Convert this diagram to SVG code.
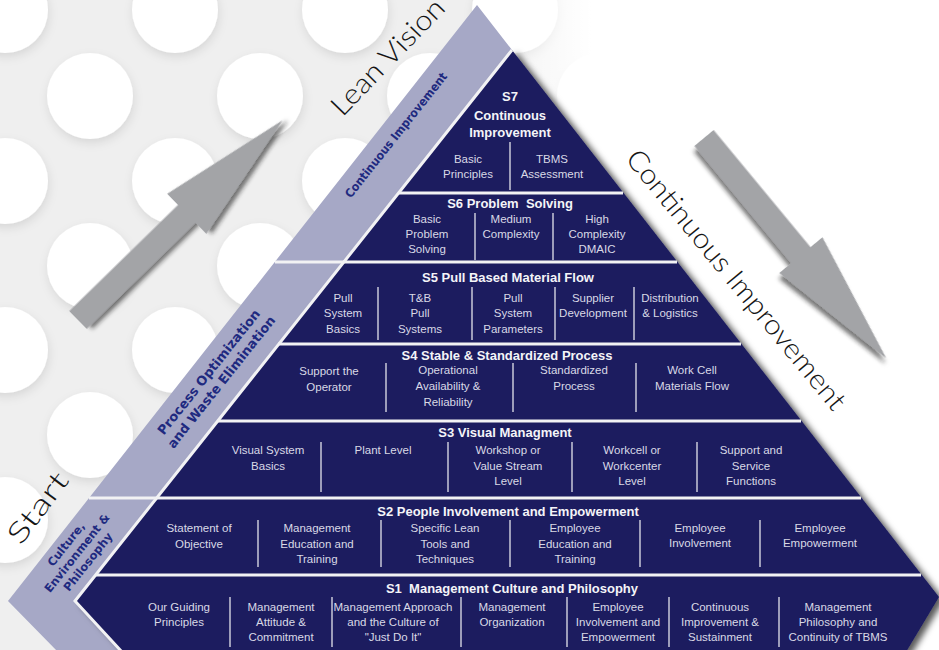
<svg xmlns="http://www.w3.org/2000/svg" width="939" height="650" viewBox="0 0 939 650">
<defs>
<style>
.it{font-family:"Liberation Sans",Arial,sans-serif;font-size:11.5px;fill:#d9d9e6;text-anchor:middle}
.tt{font-family:"Liberation Sans",Arial,sans-serif;font-size:13px;font-weight:bold;fill:#f4f4f8;text-anchor:middle;white-space:pre}
.bd{font-family:"DejaVu Sans",sans-serif;font-weight:bold;fill:#1f2a80;text-anchor:middle}
.big{font-family:Lato,"Liberation Sans",sans-serif;font-weight:300;font-size:28px;fill:#151515;text-anchor:middle}
.dv{stroke:#c9c9d9;stroke-width:1.5}
.sep{stroke:#f2f2f4;stroke-width:3}
.arw{fill:#a3a4a7}
</style>
<filter id="cs" x="-20%" y="-20%" width="140%" height="140%"><feDropShadow dx="1" dy="4" stdDeviation="5" flood-color="#000" flood-opacity="0.1"/></filter>
<filter id="ps" x="-10%" y="-10%" width="120%" height="120%"><feDropShadow dx="5" dy="3" stdDeviation="3" flood-color="#000" flood-opacity="0.65"/></filter>
<filter id="as" x="-20%" y="-20%" width="140%" height="140%"><feDropShadow dx="4" dy="4" stdDeviation="2" flood-color="#222" flood-opacity="0.6"/></filter>
<linearGradient id="fade" gradientUnits="userSpaceOnUse" x1="0" y1="0" x2="939" y2="0">
<stop offset="0.5" stop-color="#fff" stop-opacity="0"/>
<stop offset="0.63" stop-color="#fff" stop-opacity="1"/>
</linearGradient>
<path id="arrow" d="M0,-12.5 H152 V-28 L286,0 L152,28 V12.5 H0 Z"/>
</defs>

<g id="background">
<rect width="939" height="650" fill="#efefef"/>
<g fill="#fff" filter="url(#cs)">
<circle cx="5" cy="10" r="43"/><circle cx="175" cy="10" r="43"/><circle cx="345" cy="10" r="43"/><circle cx="515" cy="10" r="43"/><circle cx="685" cy="10" r="43"/>
<circle cx="90" cy="96" r="43"/><circle cx="260" cy="96" r="43"/><circle cx="430" cy="96" r="43"/><circle cx="600" cy="96" r="43"/>
<circle cx="5" cy="181" r="43"/><circle cx="175" cy="181" r="43"/><circle cx="345" cy="181" r="43"/><circle cx="515" cy="181" r="43"/>
<circle cx="90" cy="266" r="43"/><circle cx="260" cy="266" r="43"/><circle cx="430" cy="266" r="43"/>
<circle cx="5" cy="350" r="43"/><circle cx="175" cy="350" r="43"/><circle cx="345" cy="350" r="43"/>
<circle cx="90" cy="435" r="43"/><circle cx="260" cy="435" r="43"/>
<circle cx="5" cy="520" r="43"/><circle cx="175" cy="520" r="43"/>
<circle cx="90" cy="605" r="43"/>
</g>
<rect width="939" height="650" fill="url(#fade)"/>
</g>

<g id="band">
<polygon points="477,5 512,50 75,601 122,652 58,652 8,601" fill="#a6a8c6"/>
<line class="sep" x1="275" y1="262" x2="344" y2="262"/>
<line class="sep" x1="89" y1="498" x2="156" y2="498"/>
<text class="bd" font-size="12" transform="translate(396,135) rotate(-51.5)" dy=".35em" textLength="156" lengthAdjust="spacingAndGlyphs">Continuous Improvement</text>
<text class="bd" font-size="13" transform="translate(215,377) rotate(-51.5)"><tspan x="0" y="-8" dy=".35em">Process Optimization</tspan><tspan x="0" y="8" dy=".35em">and Waste Elimination</tspan></text>
<text class="bd" font-size="11.5" transform="translate(77,553) rotate(-51.5)"><tspan x="0" y="-14" dy=".35em">Culture,</tspan><tspan x="0" y="0" dy=".35em">Environment &amp;</tspan><tspan x="0" y="14" dy=".35em">Philosophy</tspan></text>
</g>

<g id="pyramid">
<polygon points="512,50 939,597 906,652 122,652 75,601" fill="#1b1b5e" filter="url(#ps)"/>
<polyline points="512,50 75,601 122,652" fill="none" stroke="#f2f2f4" stroke-width="3"/>
<line class="sep" x1="398" y1="193" x2="623" y2="193"/>
<line class="sep" x1="343" y1="262" x2="677" y2="262"/>
<line class="sep" x1="278" y1="344" x2="741" y2="344"/>
<line class="sep" x1="217" y1="421" x2="801" y2="421"/>
<line class="sep" x1="156" y1="498" x2="861" y2="498"/>
<line class="sep" x1="95" y1="575" x2="921" y2="575"/>
</g>

<g id="s7">
<text class="tt"><tspan x="510" y="101">S7</tspan><tspan x="510" y="120">Continuous</tspan><tspan x="510" y="137">Improvement</tspan></text>
<line class="dv" x1="510" y1="142" x2="510" y2="190"/>
<text class="it"><tspan x="468" y="163">Basic</tspan><tspan x="468" y="178">Principles</tspan></text>
<text class="it"><tspan x="552" y="163">TBMS</tspan><tspan x="552" y="178">Assessment</tspan></text>
</g>

<g id="s6">
<text class="tt" x="510" y="208">S6 Problem  Solving</text>
<line class="dv" x1="475" y1="213" x2="475" y2="260"/>
<line class="dv" x1="553" y1="213" x2="553" y2="260"/>
<text class="it"><tspan x="427" y="223">Basic</tspan><tspan x="427" y="238">Problem</tspan><tspan x="427" y="253">Solving</tspan></text>
<text class="it"><tspan x="511" y="223">Medium</tspan><tspan x="511" y="238">Complexity</tspan></text>
<text class="it"><tspan x="597" y="223">High</tspan><tspan x="597" y="238">Complexity</tspan><tspan x="597" y="253">DMAIC</tspan></text>
</g>

<g id="s5">
<text class="tt" x="508" y="282">S5 Pull Based Material Flow</text>
<line class="dv" x1="378" y1="287" x2="378" y2="340"/>
<line class="dv" x1="472" y1="287" x2="472" y2="340"/>
<line class="dv" x1="555" y1="287" x2="555" y2="340"/>
<line class="dv" x1="634" y1="287" x2="634" y2="340"/>
<text class="it"><tspan x="343" y="302">Pull</tspan><tspan x="343" y="317">System</tspan><tspan x="343" y="333">Basics</tspan></text>
<text class="it"><tspan x="420" y="302">T&amp;B</tspan><tspan x="420" y="317">Pull</tspan><tspan x="420" y="333">Systems</tspan></text>
<text class="it"><tspan x="513" y="302">Pull</tspan><tspan x="513" y="317">System</tspan><tspan x="513" y="333">Parameters</tspan></text>
<text class="it"><tspan x="593" y="302">Supplier</tspan><tspan x="593" y="317">Development</tspan></text>
<text class="it"><tspan x="670" y="302">Distribution</tspan><tspan x="670" y="317">&amp; Logistics</tspan></text>
</g>

<g id="s4">
<text class="tt" x="507" y="360">S4 Stable &amp; Standardized Process</text>
<line class="dv" x1="386" y1="363" x2="386" y2="412"/>
<line class="dv" x1="513" y1="363" x2="513" y2="412"/>
<line class="dv" x1="636" y1="363" x2="636" y2="412"/>
<text class="it"><tspan x="329" y="375">Support the</tspan><tspan x="329" y="391">Operator</tspan></text>
<text class="it"><tspan x="448" y="374">Operational</tspan><tspan x="448" y="390">Availability &amp;</tspan><tspan x="448" y="406">Reliability</tspan></text>
<text class="it"><tspan x="574" y="374">Standardized</tspan><tspan x="574" y="390">Process</tspan></text>
<text class="it"><tspan x="692" y="374">Work Cell</tspan><tspan x="692" y="390">Materials Flow</tspan></text>
</g>

<g id="s3">
<text class="tt" x="505" y="437">S3 Visual Managment</text>
<line class="dv" x1="321" y1="442" x2="321" y2="492"/>
<line class="dv" x1="448" y1="442" x2="448" y2="492"/>
<line class="dv" x1="572" y1="442" x2="572" y2="492"/>
<line class="dv" x1="697" y1="442" x2="697" y2="492"/>
<text class="it"><tspan x="268" y="454">Visual System</tspan><tspan x="268" y="470">Basics</tspan></text>
<text class="it" x="383" y="454">Plant Level</text>
<text class="it"><tspan x="508" y="454">Workshop or</tspan><tspan x="508" y="470">Value Stream</tspan><tspan x="508" y="485">Level</tspan></text>
<text class="it"><tspan x="632" y="454">Workcell or</tspan><tspan x="632" y="470">Workcenter</tspan><tspan x="632" y="485">Level</tspan></text>
<text class="it"><tspan x="751" y="454">Support and</tspan><tspan x="751" y="470">Service</tspan><tspan x="751" y="485">Functions</tspan></text>
</g>

<g id="s2">
<text class="tt" x="508" y="516">S2 People Involvement and Empowerment</text>
<line class="dv" x1="258" y1="520" x2="258" y2="567"/>
<line class="dv" x1="381" y1="520" x2="381" y2="567"/>
<line class="dv" x1="510" y1="520" x2="510" y2="567"/>
<line class="dv" x1="640" y1="520" x2="640" y2="567"/>
<line class="dv" x1="760" y1="520" x2="760" y2="567"/>
<text class="it"><tspan x="199" y="532">Statement of</tspan><tspan x="199" y="548">Objective</tspan></text>
<text class="it"><tspan x="317" y="532">Management</tspan><tspan x="317" y="548">Education and</tspan><tspan x="317" y="563">Training</tspan></text>
<text class="it"><tspan x="445" y="532">Specific Lean</tspan><tspan x="445" y="548">Tools and</tspan><tspan x="445" y="563">Techniques</tspan></text>
<text class="it"><tspan x="575" y="532">Employee</tspan><tspan x="575" y="548">Education and</tspan><tspan x="575" y="563">Training</tspan></text>
<text class="it"><tspan x="700" y="532">Employee</tspan><tspan x="700" y="547">Involvement</tspan></text>
<text class="it"><tspan x="820" y="532">Employee</tspan><tspan x="820" y="547">Empowerment</tspan></text>
</g>

<g id="s1">
<text class="tt" x="512" y="593">S1  Management Culture and Philosophy</text>
<line class="dv" x1="230" y1="597" x2="230" y2="647"/>
<line class="dv" x1="332" y1="597" x2="332" y2="647"/>
<line class="dv" x1="461" y1="597" x2="461" y2="647"/>
<line class="dv" x1="567" y1="597" x2="567" y2="647"/>
<line class="dv" x1="669" y1="597" x2="669" y2="647"/>
<line class="dv" x1="779" y1="597" x2="779" y2="647"/>
<text class="it"><tspan x="179" y="611">Our Guiding</tspan><tspan x="179" y="626">Principles</tspan></text>
<text class="it"><tspan x="281" y="611">Management</tspan><tspan x="281" y="626">Attitude &amp;</tspan><tspan x="281" y="641">Commitment</tspan></text>
<text class="it"><tspan x="393" y="611">Management Approach</tspan><tspan x="393" y="626">and the Culture of</tspan><tspan x="393" y="641">"Just Do It"</tspan></text>
<text class="it"><tspan x="512" y="611">Management</tspan><tspan x="512" y="626">Organization</tspan></text>
<text class="it"><tspan x="618" y="611">Employee</tspan><tspan x="618" y="626">Involvement and</tspan><tspan x="618" y="641">Empowerment</tspan></text>
<text class="it"><tspan x="720" y="611">Continuous</tspan><tspan x="720" y="626">Improvement &amp;</tspan><tspan x="720" y="641">Sustainment</tspan></text>
<text class="it"><tspan x="838" y="611">Management</tspan><tspan x="838" y="626">Philosophy and</tspan><tspan x="838" y="641">Continuity of TBMS</tspan></text>
</g>

<g id="connectors">
<use href="#arrow" class="arw" filter="url(#as)" transform="translate(78,320) rotate(-44.3)"/>
<use href="#arrow" class="arw" filter="url(#as)" transform="translate(704,138) rotate(50.4)"/>
</g>

<g id="labels">
<text class="big" transform="translate(388,57) rotate(-46)" dy=".33em" textLength="150" lengthAdjust="spacingAndGlyphs">Lean Vision</text>
<text class="big" transform="translate(736,280) rotate(50.5)" dy=".33em" textLength="328" lengthAdjust="spacingAndGlyphs">Continuous Improvement</text>
<text class="big" font-size="30" transform="translate(38,508) rotate(-53)" dy=".33em" textLength="82" lengthAdjust="spacingAndGlyphs">Start</text>
</g>
</svg>
